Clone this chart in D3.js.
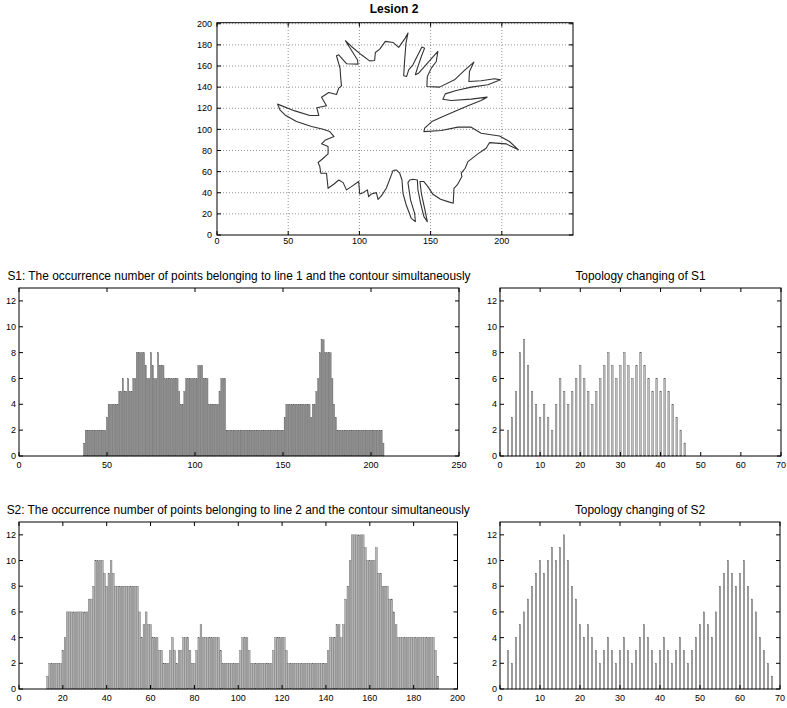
<!DOCTYPE html>
<html><head><meta charset="utf-8">
<script src="https://cdn.jsdelivr.net/npm/d3@7/dist/d3.min.js"></script>
<style>
body{margin:0;background:#fff}
svg text{font-family:"Liberation Sans",Arial,sans-serif;fill:#000}
</style>
</head><body>
<svg id="chart" width="787" height="708"></svg>
<script>
// ---------- data ----------
const lesionTitle = "Lesion 2";
const contourX = [42.5,54.7,65.2,71.5,70.1,76.9,73.4,78.5,83.9,85.5,
87.4,86.9,86.4,83.9,85.5,88.6,91.1,99.1,98.6,90.2,
94.4,101.4,107.2,110.7,111.2,114.3,118.2,123.6,127.6,132.2,
134.1,132.7,131.8,131.1,133.2,134.6,137.6,141.1,143.9,145.8,
143.5,140.7,139.3,141.6,145.8,150.9,155.1,154.0,150.5,147.7,
147.4,156.3,166.8,173.8,180.4,177.3,176.9,185.5,194.9,199.1,
190.2,178.5,168.0,160.3,158.6,164.5,178.5,189.7,185.5,176.2,
166.8,157.5,150.9,145.8,145.3,157.5,169.2,178.5,185.5,198.4,
205.4,211.7,203.0,191.4,189.0,183.2,176.2,174.3,171.5,172.0,
168.7,166.4,165.9,162.1,157.0,151.6,148.1,145.3,142.5,143.5,
145.8,147.7,145.3,143.0,141.1,140.7,137.6,135.3,134.1,135.9,
138.8,139.3,136.4,132.9,130.6,129.9,128.3,125.9,123.6,122.0,
118.9,115.4,113.1,111.9,108.4,106.5,105.6,102.6,100.2,99.5,
94.4,90.9,88.6,85.5,82.2,78.0,76.9,72.9,72.2,71.0,
73.8,78.0,78.0,73.4,76.2,82.2,79.2,74.5,66.4,55.8,
47.7,44.2];
const contourY = [123.9,117.5,113.1,113.1,120.4,122.3,130.5,134.9,133.0,139.0,
141.2,148.5,158.0,169.7,170.6,165.9,162.1,161.8,165.9,183.9,
178.5,170.6,164.9,165.2,172.8,176.0,183.3,182.3,177.6,186.4,
191.2,181.7,165.9,150.7,150.1,156.4,161.1,170.6,177.9,176.9,
169.0,158.0,151.7,153.2,159.6,167.5,173.8,164.3,158.0,150.1,
140.6,140.0,146.9,155.8,163.7,154.8,145.3,146.0,147.9,146.9,
142.2,140.0,136.8,133.6,128.6,127.3,128.6,130.5,127.3,122.3,
116.9,111.5,107.4,101.1,97.9,98.9,102.1,102.1,96.4,93.8,
88.5,80.6,86.3,87.5,82.1,76.8,69.5,63.2,58.5,55.3,
47.4,44.2,30.0,31.6,33.8,38.5,45.8,50.6,50.6,39.5,
25.3,12.6,17.4,30.0,42.7,52.1,52.8,52.1,49.6,33.2,
20.5,12.6,15.8,28.4,39.5,52.1,58.5,61.6,61.0,55.3,
44.2,37.0,33.8,40.1,38.9,36.3,42.7,40.1,38.9,50.6,
45.8,42.7,49.6,52.1,48.3,44.2,58.5,58.5,64.8,68.6,
71.7,76.8,83.7,86.3,90.0,93.2,97.9,100.2,102.7,107.4,
113.7,118.5];
const lesionXTicks = [0,50,100,150,200];
const lesionYTicks = [0,20,40,60,80,100,120,140,160,180,200];

const s1Title = "S1: The occurrence number of points belonging to line 1 and the contour simultaneously";
const s1Start = 37;
const s1Values = [1,
2,2,2,2,2,2,2,2,2,2,2,2,
3,
4,4,4,4,4,4,
5,5,6,5,5,6,5,5,6,6,
8,8,8,8,8,7,6,6,8,7,6,6,8,7,7,7,
6,6,6,6,6,6,6,6,
5,4,4,5,
6,6,6,6,6,6,6,
7,7,7,
6,6,6,
4,4,4,4,4,4,
5,
6,6,6,
2,2,2,2,2,2,2,2,2,2,2,2,2,2,2,2,2,2,2,2,2,2,2,2,2,2,2,2,2,2,2,2,2,
3,
4,4,4,4,4,4,4,4,4,4,4,4,4,4,
3,4,4,5,6,8,9,9,8,8,8,8,6,4,3,
2,2,2,2,2,2,2,2,2,2,2,2,2,2,2,2,2,2,2,2,2,2,2,2,2,2,
1];
const s1XTicks = [0,50,100,150,200,250];

const t1Title = "Topology changing of S1";
const t1Start = 2;
const t1Values = [2,3,5,8,9,7,5,4,3,4,
3,2,4,6,5,4,5,6,7,6,
5,4,5,6,7,8,7,6,7,8,
7,6,7,8,7,6,5,6,5,6,
5,4,3,2,1];
const t1XTicks = [0,10,20,30,40,50,60,70];

const s2Title = "S2: The occurrence number of points belonging to line 2 and the contour simultaneously";
const s2Start = 13;
const s2Values = [1,
2,2,2,2,2,2,
3,4,
6,6,6,6,6,6,6,6,6,6,
7,7,8,
10,10,10,10,9,8,9,10,9,
8,8,8,8,8,8,8,8,8,8,8,
6,4,5,6,5,5,
4,4,4,3,3,2,2,2,
3,4,3,2,3,3,4,4,4,3,2,2,3,4,5,
4,4,4,4,4,4,4,4,
3,
2,2,2,2,2,2,2,2,
3,4,4,4,3,
2,2,2,2,2,2,2,2,2,2,
3,4,4,4,4,4,3,
2,2,2,2,2,2,2,2,2,2,2,2,2,2,2,2,2,2,
3,4,4,4,5,5,4,5,7,8,10,
12,12,12,12,12,12,
11,10,10,10,10,11,9,9,8,8,8,7,7,6,5,
4,4,4,4,4,4,4,4,4,4,4,4,4,4,4,4,4,
3,1];
const s2XTicks = [0,20,40,60,80,100,120,140,160,180,200];

const t2Title = "Topology changing of S2";
const t2Start = 2;
const t2Values = [3,2,4,5,6,7,8,9,10,9,
10,11,10,11,12,10,8,7,5,4,
5,4,3,2,3,4,3,2,3,4,
3,2,3,4,5,4,3,2,3,4,
3,2,3,4,3,2,3,4,5,6,
5,4,6,8,9,10,9,8,9,10,
8,7,6,4,3,2,1];
const t2XTicks = [0,10,20,30,40,50,60,70];

const barYTicks = [0,2,4,6,8,10,12];

// ---------- drawing ----------
const svg = d3.select("#chart");
const TICK = 4;

function frame(x, y, xTicks, yTicks, opt) {
  const g = svg.append("g");
  const [x0, x1] = x.range();
  const [y0, y1] = y.range();
  if (opt.grid) {
    g.selectAll(".gx").data(xTicks.filter(t => t > x.domain()[0])).join("line")
      .attr("x1", d => x(d)).attr("x2", d => x(d)).attr("y1", y0).attr("y2", y1)
      .attr("stroke", "#777").attr("stroke-width", 0.8).attr("stroke-dasharray", "1,2");
    g.selectAll(".gy").data(yTicks.filter(t => t > y.domain()[0])).join("line")
      .attr("y1", d => y(d)).attr("y2", d => y(d)).attr("x1", x0).attr("x2", x1)
      .attr("stroke", "#777").attr("stroke-width", 0.8).attr("stroke-dasharray", "1,2");
  }
  return g;
}

function decorate(g, x, y, xTicks, yTicks, opt) {
  const [x0, x1] = x.range();
  const [y0, y1] = y.range();
  g.append("rect").attr("x", x0).attr("y", y1).attr("width", x1 - x0).attr("height", y0 - y1)
    .attr("fill", "none").attr("stroke", "#000").attr("stroke-width", 1);
  const tk = g.append("g").attr("stroke", "#000").attr("stroke-width", 1);
  xTicks.forEach(t => {
    tk.append("line").attr("x1", x(t)).attr("x2", x(t)).attr("y1", y0).attr("y2", y0 - TICK);
    tk.append("line").attr("x1", x(t)).attr("x2", x(t)).attr("y1", y1).attr("y2", y1 + TICK);
  });
  yTicks.forEach(t => {
    tk.append("line").attr("y1", y(t)).attr("y2", y(t)).attr("x1", x0).attr("x2", x0 + TICK);
    tk.append("line").attr("y1", y(t)).attr("y2", y(t)).attr("x1", x1).attr("x2", x1 - TICK);
  });
  g.selectAll(".xl").data(xTicks).join("text")
    .attr("x", d => x(d)).attr("y", y0 + opt.xLabelDy).attr("text-anchor", "middle")
    .attr("font-size", opt.fs).text(d => d);
  g.selectAll(".yl").data(yTicks).join("text")
    .attr("x", x0 - opt.yLabelDx).attr("y", d => y(d)).attr("dy", "0.35em").attr("text-anchor", "end")
    .attr("font-size", opt.fs).text(d => d);
  if (opt.title) {
    g.append("text").attr("x", opt.titleX !== undefined ? opt.titleX : (x0 + x1) / 2)
      .attr("y", opt.titleY).attr("text-anchor", "middle")
      .attr("font-size", opt.titleFs).attr("font-weight", opt.bold ? "bold" : "normal")
      .text(opt.title);
  }
}

// Lesion plot
{
  const x = d3.scaleLinear().domain([0, 250]).range([217, 573]);
  const y = d3.scaleLinear().domain([0, 201]).range([235, 22.7]);
  const g = frame(x, y, lesionXTicks, lesionYTicks, {grid: true});
  const pts = d3.zip(contourX, contourY);
  const line = d3.line().x(d => x(d[0])).y(d => y(d[1])).curve(d3.curveLinearClosed);
  g.append("path").attr("d", line(pts)).attr("fill", "none")
    .attr("stroke", "#333").attr("stroke-width", 1.1).attr("stroke-linejoin", "round");
  decorate(g, x, y, lesionXTicks, lesionYTicks,
    {fs: 9, xLabelDy: 9, yLabelDx: 5, title: lesionTitle, titleY: 13, titleX: 394, titleFs: 12, bold: true});
}

function barPlot(box, xDomain, yDomain, start, values, xTicks, title, style) {
  const x = d3.scaleLinear().domain(xDomain).range([box.l, box.r]);
  const y = d3.scaleLinear().domain(yDomain).range([box.b, box.t]);
  const g = frame(x, y, xTicks, barYTicks, {grid: false});
  const w = style.width;
  g.append("g").selectAll("rect").data(values).join("rect")
    .attr("x", (d, i) => x(start + i - w / 2))
    .attr("width", x(w) - x(0))
    .attr("y", d => y(d))
    .attr("height", d => y(0) - y(d))
    .attr("fill", style.fill).attr("stroke", style.stroke).attr("stroke-width", style.sw);
  decorate(g, x, y, xTicks, barYTicks,
    {fs: 9, xLabelDy: 11.5, yLabelDx: 3, title: title, titleY: box.t - 8, titleFs: 11.9, bold: false});
}

const wideStyle1 = {width: 0.8, fill: "#8a8a8a", stroke: "#5a5a5a", sw: 0.3};
const wideStyle2 = {width: 0.8, fill: "#b4b4b4", stroke: "#555", sw: 0.35};
const thinStyle = {width: 0.35, fill: "#c4c4c4", stroke: "#555", sw: 0.45};

barPlot({l: 19, r: 459, t: 288, b: 456}, [0, 250], [0, 13], s1Start, s1Values, s1XTicks, s1Title, wideStyle1);
barPlot({l: 500, r: 781, t: 288, b: 456}, [0, 70], [0, 13], t1Start, t1Values, t1XTicks, t1Title, thinStyle);
barPlot({l: 19, r: 457.5, t: 522, b: 689}, [0, 200], [0, 13], s2Start, s2Values, s2XTicks, s2Title, wideStyle2);
barPlot({l: 500, r: 780, t: 522, b: 689}, [0, 70], [0, 13], t2Start, t2Values, t2XTicks, t2Title, thinStyle);
</script>
</body></html>
